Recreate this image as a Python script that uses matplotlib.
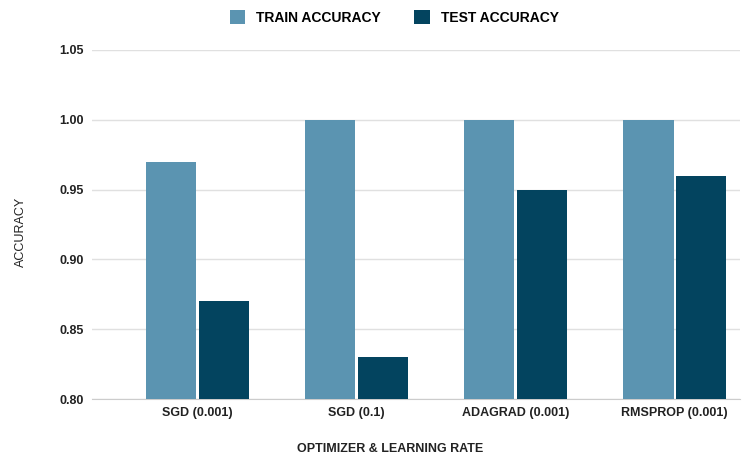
import numpy as np
import matplotlib.pyplot as plt

# Accuracy per optimizer / learning rate
optimizers = ["SGD (0.001)", "SGD (0.1)", "ADAGRAD (0.001)", "RMSPROP (0.001)"]
train_acc = [0.97, 1.00, 1.00, 1.00]
test_acc = [0.87, 0.83, 0.95, 0.96]

plt.rcParams['font.family'] = ['Liberation Sans', 'DejaVu Sans']

fig = plt.figure(figsize=(7.44, 4.55), dpi=100)
ax = fig.add_axes([92 / 744, 1 - 399 / 455, (740 - 92) / 744, (399 - 50) / 455])

x = np.arange(len(optimizers))
w = 0.315
ax.bar(x - w / 2 - 0.008, train_acc, w, color="#5b94b1", label="TRAIN ACCURACY",
       zorder=3)
ax.bar(x + w / 2 + 0.008, test_acc, w, color="#03445f", label="TEST ACCURACY",
       zorder=3)

ax.set_ylim(0.80, 1.05)
ax.set_xlim(-0.664, 3.41)
ax.set_yticks([0.80, 0.85, 0.90, 0.95, 1.00, 1.05])
ax.set_yticklabels(["%.2f" % v for v in ax.get_yticks()], fontsize=9,
                   fontweight="bold", color="#222222")
ax.set_xticks(x)
ax.set_xticklabels(optimizers, fontsize=9, fontweight="bold", color="#222222")
ax.tick_params(axis="y", length=0, pad=6)
ax.tick_params(axis="x", length=0, pad=6)

ax.grid(axis="y", color="#e0e0e0", linewidth=1, zorder=0)
for side in ["top", "right", "left"]:
    ax.spines[side].set_visible(False)
ax.spines["bottom"].set_color("#cccccc")

ax.set_xlabel("OPTIMIZER & LEARNING RATE", fontsize=9, fontweight="bold",
              color="#222222")
ax.xaxis.set_label_coords(0.46, -0.125)
ax.set_ylabel("ACCURACY", fontsize=9, color="#222222",
              family=["Liberation Sans Narrow", "Liberation Sans"])
ax.yaxis.set_label_coords(-0.1, 0.48)

fig.legend(loc="upper center", bbox_to_anchor=(0.53, 1.005), ncol=2,
           frameon=False, prop={"weight": "bold", "size": 10},
           handlelength=1.1, handleheight=1.1, columnspacing=2.4)

plt.savefig("out.png", dpi=100)
